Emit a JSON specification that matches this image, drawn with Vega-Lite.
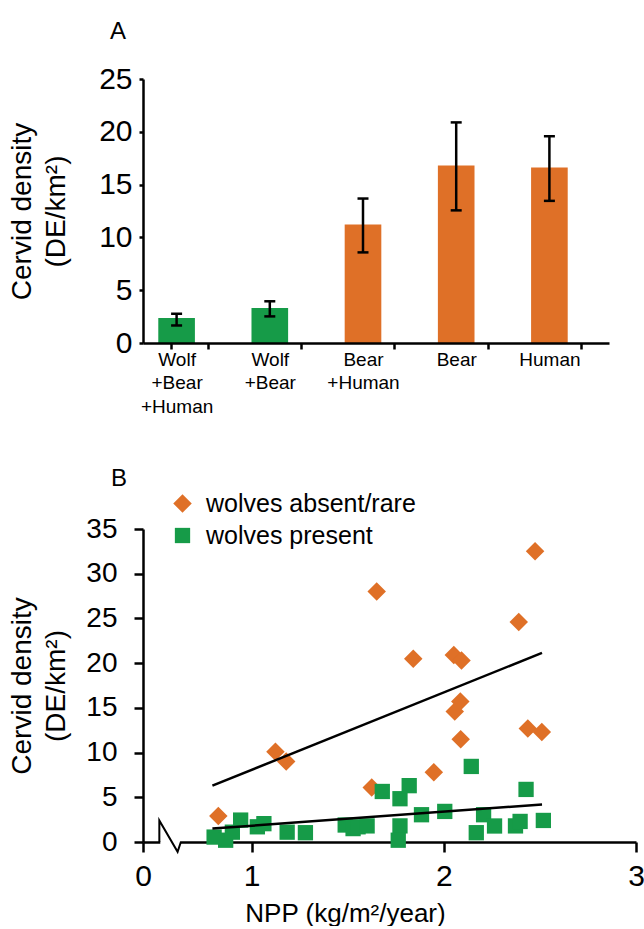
{
  "$schema": "https://vega.github.io/schema/vega-lite/v6.json",
  "padding": {"left": 8, "top": 20, "right": 0, "bottom": 0},
  "spacing": 51,
  "resolve": {"scale": {"color": "independent", "shape": "independent", "size": "independent"}, "legend": {"color": "independent", "shape": "independent", "size": "independent"}},
  "config": {
    "view": {"stroke": null},
    "font": "Liberation Sans",
    "axis": {
      "domainColor": "#000000", "tickColor": "#000000", "labelColor": "#000000", "titleColor": "#000000",
      "domainWidth": 2.5, "tickWidth": 2.5, "grid": false, "titleFontWeight": "normal",
      "labelFont": "Liberation Sans", "titleFont": "Liberation Sans"
    },
    "title": {"font": "Liberation Sans", "fontWeight": "normal", "color": "#000000"},
    "legend": {"labelFont": "Liberation Sans", "labelColor": "#000000"}
  },
  "vconcat": [
    {
      "title": {"text": "A", "anchor": "start", "frame": "group", "dx": -33, "fontSize": 24, "offset": 20},
      "width": 466,
      "height": 264,
      "data": {"values": [
        {"group": "Wolf|+Bear|+Human", "mean": 2.36, "lo": 1.66, "hi": 2.77, "wolves": "present"},
        {"group": "Wolf|+Bear", "mean": 3.32, "lo": 2.52, "hi": 3.95, "wolves": "present"},
        {"group": "Bear|+Human", "mean": 11.22, "lo": 8.58, "hi": 13.68, "wolves": "absent"},
        {"group": "Bear", "mean": 16.8, "lo": 12.56, "hi": 20.89, "wolves": "absent"},
        {"group": "Human", "mean": 16.61, "lo": 13.46, "hi": 19.58, "wolves": "absent"}
      ]},
      "encoding": {
        "x": {
          "field": "group", "type": "nominal", "sort": null,
          "scale": {"paddingInner": 0.607, "paddingOuter": 0.3035},
          "axis": {
            "title": null, "tickBand": "extent", "labelExpr": "split(datum.label, '|')",
            "labelOffset": -13, "tickSize": 6, "labelFontSize": 19, "labelLineHeight": 23.5,
            "labelBaseline": "top", "labelPadding": 1, "labelAngle": 0, "labelOverlap": false, "zindex": 1
          }
        }
      },
      "layer": [
        {
          "mark": {"type": "bar", "xOffset": -13},
          "encoding": {
            "y": {
              "field": "mean", "type": "quantitative", "scale": {"domain": [0, 25], "nice": false},
              "axis": {
                "values": [0, 5, 10, 15, 20, 25], "tickSize": 4, "labelFontSize": 30, "labelPadding": 7,
                "title": ["Cervid density", "(DE/km²)"], "titleFontSize": 28, "titleLineHeight": 34,
                "minExtent": 50, "maxExtent": 50, "titlePadding": 23, "zindex": 1
              }
            },
            "color": {"field": "wolves", "type": "nominal", "scale": {"domain": ["present", "absent"], "range": ["#169B48", "#DF7027"]}, "legend": null}
          }
        },
        {
          "mark": {"type": "rule", "xOffset": -13, "strokeWidth": 2.5, "color": "#000000"},
          "encoding": {"y": {"field": "lo", "type": "quantitative"}, "y2": {"field": "hi"}}
        },
        {
          "mark": {"type": "tick", "xOffset": -13, "size": 11, "thickness": 2.5, "color": "#000000", "orient": "horizontal", "opacity": 1},
          "encoding": {"y": {"field": "lo", "type": "quantitative"}}
        },
        {
          "mark": {"type": "tick", "xOffset": -13, "size": 11, "thickness": 2.5, "color": "#000000", "orient": "horizontal", "opacity": 1},
          "encoding": {"y": {"field": "hi", "type": "quantitative"}}
        }
      ]
    },
    {
      "title": {"text": "B", "anchor": "start", "frame": "group", "dx": -32, "fontSize": 24, "offset": 0},
      "width": 493,
      "height": 313,
      "layer": [
        {
          "data": {"values": [
            {"npp": 2.475, "density": 32.5, "wolves": "wolves absent/rare"},
            {"npp": 1.651, "density": 28.0, "wolves": "wolves absent/rare"},
            {"npp": 2.39, "density": 24.6, "wolves": "wolves absent/rare"},
            {"npp": 1.841, "density": 20.5, "wolves": "wolves absent/rare"},
            {"npp": 2.052, "density": 20.9, "wolves": "wolves absent/rare"},
            {"npp": 2.092, "density": 20.3, "wolves": "wolves absent/rare"},
            {"npp": 2.086, "density": 15.7, "wolves": "wolves absent/rare"},
            {"npp": 2.057, "density": 14.6, "wolves": "wolves absent/rare"},
            {"npp": 2.437, "density": 12.7, "wolves": "wolves absent/rare"},
            {"npp": 2.51, "density": 12.3, "wolves": "wolves absent/rare"},
            {"npp": 2.088, "density": 11.5, "wolves": "wolves absent/rare"},
            {"npp": 1.124, "density": 10.1, "wolves": "wolves absent/rare"},
            {"npp": 1.18, "density": 9.0, "wolves": "wolves absent/rare"},
            {"npp": 1.948, "density": 7.8, "wolves": "wolves absent/rare"},
            {"npp": 1.625, "density": 6.1, "wolves": "wolves absent/rare"},
            {"npp": 0.827, "density": 2.9, "wolves": "wolves absent/rare"},
            {"npp": 0.805, "density": 0.55, "wolves": "wolves present"},
            {"npp": 0.865, "density": 0.2, "wolves": "wolves present"},
            {"npp": 0.9, "density": 1.1, "wolves": "wolves present"},
            {"npp": 0.943, "density": 2.45, "wolves": "wolves present"},
            {"npp": 1.03, "density": 1.7, "wolves": "wolves present"},
            {"npp": 1.064, "density": 2.05, "wolves": "wolves present"},
            {"npp": 1.185, "density": 1.1, "wolves": "wolves present"},
            {"npp": 1.28, "density": 1.04, "wolves": "wolves present"},
            {"npp": 1.487, "density": 1.9, "wolves": "wolves present"},
            {"npp": 1.528, "density": 1.5, "wolves": "wolves present"},
            {"npp": 1.554, "density": 1.7, "wolves": "wolves present"},
            {"npp": 1.601, "density": 1.8, "wolves": "wolves present"},
            {"npp": 1.68, "density": 5.65, "wolves": "wolves present"},
            {"npp": 1.772, "density": 4.84, "wolves": "wolves present"},
            {"npp": 1.82, "density": 6.3, "wolves": "wolves present"},
            {"npp": 1.772, "density": 1.8, "wolves": "wolves present"},
            {"npp": 1.763, "density": 0.2, "wolves": "wolves present"},
            {"npp": 1.884, "density": 3.05, "wolves": "wolves present"},
            {"npp": 2.005, "density": 3.42, "wolves": "wolves present"},
            {"npp": 2.143, "density": 8.45, "wolves": "wolves present"},
            {"npp": 2.169, "density": 1.04, "wolves": "wolves present"},
            {"npp": 2.207, "density": 3.05, "wolves": "wolves present"},
            {"npp": 2.264, "density": 1.79, "wolves": "wolves present"},
            {"npp": 2.373, "density": 1.8, "wolves": "wolves present"},
            {"npp": 2.397, "density": 2.3, "wolves": "wolves present"},
            {"npp": 2.428, "density": 5.88, "wolves": "wolves present"},
            {"npp": 2.518, "density": 2.41, "wolves": "wolves present"}
          ]},
          "mark": {"type": "point", "filled": true, "opacity": 1, "strokeWidth": 0},
          "encoding": {
            "x": {
              "field": "npp", "type": "quantitative", "scale": {"domain": [0.435, 3], "nice": false, "zero": false},
              "axis": {
                "values": [0.435, 1, 2, 3], "labelExpr": "datum.value < 0.5 ? '0' : format(datum.value, 'd')",
                "tickSize": 10, "labelFontSize": 30, "labelPadding": 9, "labelFlush": false,
                "title": "NPP (kg/m²/year)", "titleFontSize": 26, "titleX": 202, "titlePadding": 9
              }
            },
            "y": {
              "field": "density", "type": "quantitative", "scale": {"domain": [0, 35], "nice": false},
              "axis": {
                "values": [0, 5, 10, 15, 20, 25, 30, 35], "tickSize": 9, "labelFontSize": 28, "labelPadding": 17,
                "title": ["Cervid density", "(DE/km²)"], "titleFontSize": 28, "titleLineHeight": 34,
                "minExtent": 50, "maxExtent": 50, "titlePadding": 23
              }
            },
            "color": {
              "field": "wolves", "type": "nominal",
              "scale": {"domain": ["wolves absent/rare", "wolves present"], "range": ["#DF7027", "#169B48"]},
              "legend": {
                "title": null, "orient": "none", "legendX": 27, "legendY": -38,
                "labelFontSize": 25, "labelLimit": 400, "symbolSize": 676, "rowPadding": 6, "labelOffset": 11,
                "symbolStrokeWidth": 0,
                "encode": {"symbols": {"update": {"size": {"signal": "datum.value === 'wolves absent/rare' ? 676 : 289"}}}}
              }
            },
            "shape": {
              "field": "wolves", "type": "nominal",
              "scale": {"domain": ["wolves absent/rare", "wolves present"], "range": ["diamond", "square"]}
            },
            "size": {
              "field": "wolves", "type": "nominal",
              "scale": {"domain": ["wolves absent/rare", "wolves present"], "range": [342, 234]},
              "legend": null
            }
          }
        },
        {
          "data": {"values": [
            {"npp": 0.796, "density": 6.3, "fit": "absent"},
            {"npp": 2.511, "density": 21.15, "fit": "absent"},
            {"npp": 0.796, "density": 1.5, "fit": "present"},
            {"npp": 2.511, "density": 4.2, "fit": "present"}
          ]},
          "mark": {"type": "line", "color": "#000000", "strokeWidth": 2.5},
          "encoding": {
            "x": {"field": "npp", "type": "quantitative"},
            "y": {"field": "density", "type": "quantitative"},
            "detail": {"field": "fit", "type": "nominal"}
          }
        },
        {
          "data": {"values": [{"npp": 0.525, "npp2": 0.628, "density": 0}]},
          "mark": {"type": "rule", "color": "#ffffff", "strokeWidth": 4},
          "encoding": {
            "x": {"field": "npp", "type": "quantitative"},
            "x2": {"field": "npp2"},
            "y": {"field": "density", "type": "quantitative"}
          }
        },
        {
          "data": {"values": [
            {"npp": 0.52, "density": 0, "o": 1},
            {"npp": 0.52, "density": 2.4, "o": 2},
            {"npp": 0.615, "density": -1.1, "o": 3},
            {"npp": 0.632, "density": 0, "o": 4}
          ]},
          "mark": {"type": "line", "color": "#000000", "strokeWidth": 2},
          "encoding": {
            "x": {"field": "npp", "type": "quantitative"},
            "y": {"field": "density", "type": "quantitative"},
            "order": {"field": "o", "type": "quantitative"}
          }
        }
      ]
    }
  ]
}
